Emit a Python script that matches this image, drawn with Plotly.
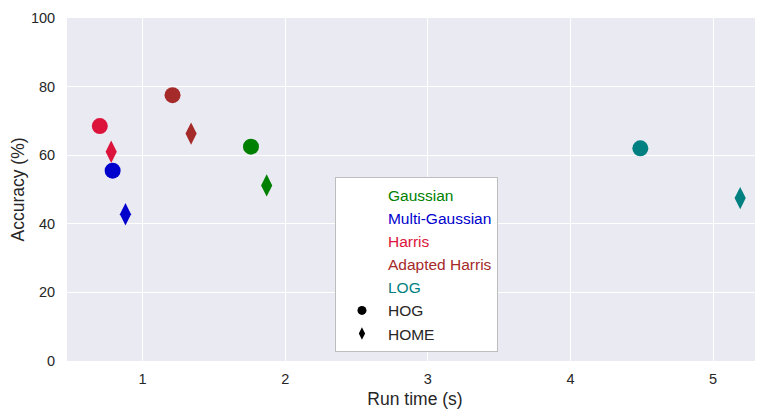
import plotly.graph_objects as go

methods = ["Gaussian", "Multi-Gaussian", "Harris", "Adapted Harris", "LOG"]
colors = ["#008000", "#0000CD", "#DC143C", "#A52A2A", "#008080"]
hog_time = [1.76, 0.79, 0.70, 1.21, 4.49]
hog_acc = [62.5, 55.5, 68.5, 77.5, 62.0]
home_time = [1.87, 0.88, 0.78, 1.34, 5.19]
home_acc = [51.2, 42.8, 61.0, 66.3, 47.5]
descriptors = ["HOG", "HOME"]
x_ticks = [1, 2, 3, 4, 5]
y_ticks = [0, 20, 40, 60, 80, 100]

fig = go.Figure()

for m, c, xt, ya, xt2, ya2 in zip(methods, colors, hog_time, hog_acc, home_time, home_acc):
    fig.add_trace(go.Scatter(x=[xt], y=[ya], mode="markers", showlegend=False,
                             marker=dict(symbol="circle", size=16, color=c), hoverinfo="skip"))
    fig.add_trace(go.Scatter(x=[xt2], y=[ya2], mode="markers", showlegend=False,
                             marker=dict(symbol="diamond-tall", size=16, color=c), hoverinfo="skip"))

for m, c in zip(methods, colors):
    fig.add_trace(go.Scatter(x=[None], y=[None], mode="markers",
                             name=f'<span style="color:{c}">{m}</span>',
                             marker=dict(size=1, color="rgba(0,0,0,0)")))

fig.add_trace(go.Scatter(x=[None], y=[None], mode="markers", name=descriptors[0],
                         marker=dict(symbol="circle", size=9, color="black")))
fig.add_trace(go.Scatter(x=[None], y=[None], mode="markers", name=descriptors[1],
                         marker=dict(symbol="diamond-tall", size=9, color="black")))

fig.update_layout(
    width=755, height=401,
    margin=dict(l=59, r=0, t=10, b=48),
    paper_bgcolor="white",
    plot_bgcolor="#EAEAF2",
    font=dict(family="Liberation Sans, Arial, sans-serif", size=14.5, color="#262626"),
    showlegend=True,
    legend=dict(
        x=0.385, y=0.026, xanchor="left", yanchor="bottom",
        bgcolor="white", bordercolor="#bdbdbd", borderwidth=1,
        font=dict(size=15.5, color="#262626"),
        itemwidth=42,
    ),
)
fig.update_xaxes(range=[0.47, 5.35], tickvals=x_ticks, showgrid=True, gridcolor="white",
                 gridwidth=1, zeroline=False, showline=False,
                 ticks="outside", ticklen=5, tickcolor="rgba(0,0,0,0)",
                 title=dict(text="Run time (s)", font=dict(size=17.5), standoff=6),
                 tickfont=dict(size=14.5))
fig.update_yaxes(range=[0, 100], tickvals=y_ticks, showgrid=True, gridcolor="white",
                 gridwidth=1, zeroline=False, showline=False,
                 ticks="outside", ticklen=8, tickcolor="rgba(0,0,0,0)",
                 title=dict(text="Accuracy (%)", font=dict(size=17.5), standoff=6),
                 tickfont=dict(size=14.5))

fig.write_html("out.html")
